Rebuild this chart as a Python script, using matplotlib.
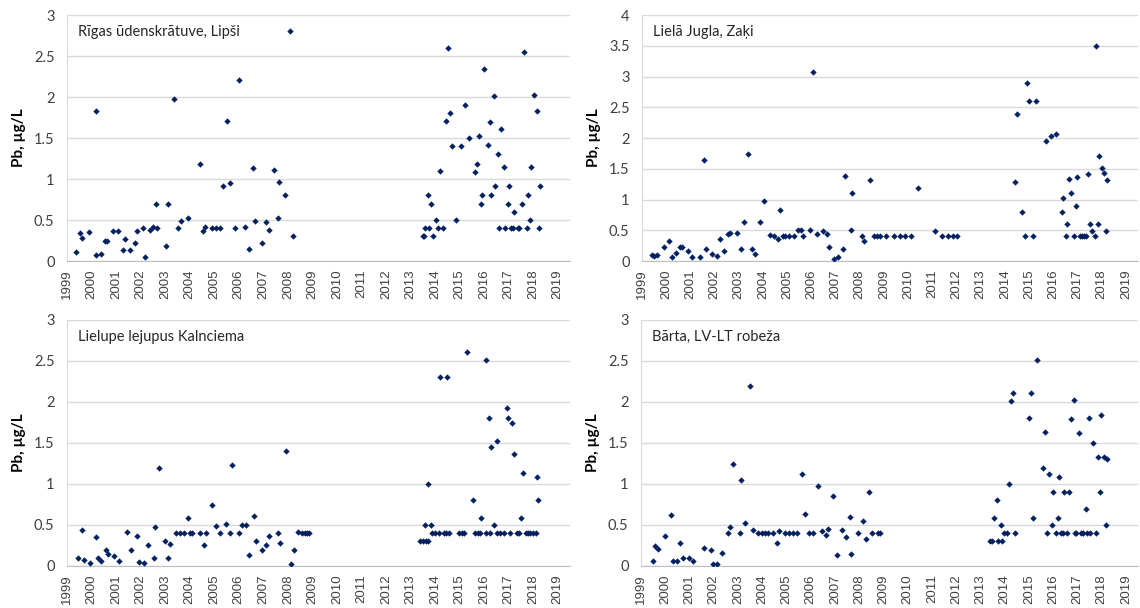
import matplotlib
matplotlib.use("Agg")
import matplotlib.pyplot as plt
from matplotlib.ticker import FuncFormatter

# --- data (decimal year, Pb ug/L) ---
rigas_x = [1999.35, 1999.53, 1999.63, 1999.89, 2000.17, 2000.18, 2000.40, 2000.53, 2000.62, 2000.88,
           2001.07, 2001.28, 2001.37, 2001.55, 2001.75, 2001.85, 2002.11, 2002.19, 2002.37, 2002.50,
           2002.63, 2002.68, 2003.02, 2003.10, 2003.36, 2003.54, 2003.66, 2003.94, 2004.40, 2004.55,
           2004.63, 2004.89, 2005.08, 2005.24, 2005.37, 2005.54, 2005.63, 2005.86, 2006.02, 2006.24,
           2006.42, 2006.58, 2006.68, 2006.93, 2007.10, 2007.23, 2007.43, 2007.60, 2007.64, 2007.89,
           2008.08, 2008.20,
           2013.49, 2013.53, 2013.61, 2013.70, 2013.75, 2013.83, 2013.92, 2014.04, 2014.13, 2014.21,
           2014.34, 2014.43, 2014.53, 2014.61, 2014.69, 2014.87, 2015.05, 2015.21, 2015.39, 2015.62,
           2015.70, 2015.78, 2015.86, 2015.92, 2016.00, 2016.14, 2016.22, 2016.26, 2016.40, 2016.44,
           2016.56, 2016.61, 2016.70, 2016.79, 2016.87, 2016.96, 2017.01, 2017.08, 2017.16, 2017.23,
           2017.39, 2017.43, 2017.53, 2017.62, 2017.74, 2017.79, 2017.87, 2017.92, 2018.05, 2018.14,
           2018.22, 2018.26]
rigas_y = [0.11, 0.34, 0.28, 0.35, 1.83, 0.07, 0.08, 0.25, 0.24, 0.36,
           0.36, 0.13, 0.27, 0.14, 0.22, 0.36, 0.40, 0.05, 0.38, 0.42,
           0.69, 0.40, 0.18, 0.70, 1.98, 0.40, 0.49, 0.53, 1.18, 0.36,
           0.42, 0.40, 0.40, 0.40, 0.91, 1.71, 0.95, 0.40, 2.21, 0.42,
           0.15, 1.14, 0.49, 0.22, 0.47, 0.38, 1.11, 0.53, 0.96, 0.81,
           2.80, 0.30,
           0.30, 0.30, 0.40, 0.81, 0.40, 0.70, 0.30, 0.50, 0.40, 1.10,
           0.40, 1.71, 2.60, 1.80, 1.40, 0.50, 1.40, 1.90, 1.50, 1.09,
           1.18, 1.53, 0.70, 0.81, 2.34, 1.41, 1.69, 0.81, 2.01, 0.91,
           1.30, 0.40, 1.61, 1.15, 0.40, 0.70, 0.91, 0.40, 0.40, 0.60,
           0.40, 0.40, 0.70, 2.55, 0.40, 0.81, 0.50, 1.15, 2.02, 1.83,
           0.40, 0.91]

jugla_x = [1999.41, 1999.50, 1999.63, 1999.90, 2000.12, 2000.25, 2000.42, 2000.56, 2000.65, 2000.90,
           2001.07, 2001.39, 2001.57, 2001.65, 2001.91, 2002.09, 2002.22, 2002.39, 2002.55, 2002.65,
           2002.92, 2003.08, 2003.22, 2003.39, 2003.56, 2003.66, 2003.88, 2004.05, 2004.27, 2004.45,
           2004.61, 2004.70, 2004.83, 2004.93, 2005.09, 2005.27, 2005.43, 2005.58, 2005.66, 2005.93,
           2006.07, 2006.23, 2006.46, 2006.64, 2006.72, 2006.93, 2007.11, 2007.29, 2007.41, 2007.63,
           2007.67, 2008.10, 2008.18, 2008.41, 2008.59, 2008.73, 2008.84, 2009.07, 2009.42, 2009.67,
           2009.86, 2010.12, 2010.42, 2011.11, 2011.42, 2011.64, 2011.85, 2012.04,
           2014.43, 2014.52, 2014.70, 2014.83, 2014.91, 2015.00, 2015.17, 2015.27, 2015.69, 2015.91,
           2016.10, 2016.35, 2016.39, 2016.52, 2016.57, 2016.66, 2016.75, 2016.84, 2016.92, 2017.00,
           2017.10, 2017.18, 2017.26, 2017.36, 2017.44, 2017.50, 2017.58, 2017.71, 2017.75, 2017.85,
           2017.88, 2018.02, 2018.10, 2018.19, 2018.23]
jugla_y = [0.10, 0.08, 0.10, 0.22, 0.32, 0.06, 0.13, 0.23, 0.22, 0.17,
           0.06, 0.06, 1.64, 0.20, 0.12, 0.08, 0.36, 0.17, 0.44, 0.46,
           0.46, 0.20, 0.64, 1.74, 0.19, 0.12, 0.64, 0.97, 0.43, 0.40,
           0.36, 0.83, 0.40, 0.40, 0.40, 0.40, 0.50, 0.50, 0.40, 0.51,
           3.07, 0.44, 0.48, 0.44, 0.23, 0.04, 0.07, 0.20, 1.39, 0.51,
           1.10, 0.40, 0.32, 1.31, 0.40, 0.40, 0.40, 0.40, 0.40, 0.40,
           0.40, 0.40, 1.19, 0.49, 0.40, 0.40, 0.40, 0.40,
           1.29, 2.39, 0.79, 0.40, 2.90, 2.61, 0.40, 2.61, 1.95, 2.03,
           2.06, 0.79, 1.03, 0.40, 0.60, 1.33, 1.10, 0.40, 0.90, 1.36,
           0.40, 0.40, 0.40, 0.40, 1.41, 0.60, 0.49, 0.40, 3.50, 0.60,
           1.70, 1.52, 1.43, 0.49, 1.31]

lielupe_x = [1999.45, 1999.59, 1999.68, 1999.94, 2000.20, 2000.28, 2000.40, 2000.58, 2000.66, 2000.93,
             2001.10, 2001.45, 2001.59, 2001.85, 2001.94, 2002.12, 2002.28, 2002.55, 2002.59, 2002.76,
             2003.01, 2003.10, 2003.20, 2003.46, 2003.59, 2003.76, 2003.94, 2004.03, 2004.11, 2004.40,
             2004.59, 2004.68, 2004.90, 2005.07, 2005.25, 2005.46, 2005.64, 2005.72, 2005.99, 2006.13,
             2006.31, 2006.42, 2006.64, 2006.69, 2006.95, 2007.11, 2007.25, 2007.60, 2007.68, 2007.94,
             2008.12, 2008.24, 2008.42, 2008.58, 2008.69, 2008.79, 2008.88,
             2013.40, 2013.49, 2013.59, 2013.62, 2013.70, 2013.71, 2013.83, 2013.89, 2013.98, 2014.17,
             2014.21, 2014.35, 2014.43, 2014.47, 2014.57, 2014.99, 2015.09, 2015.17, 2015.31, 2015.56,
             2015.61, 2015.74, 2015.82, 2015.86, 2016.06, 2016.09, 2016.18, 2016.22, 2016.30, 2016.40,
             2016.52, 2016.54, 2016.66, 2016.79, 2016.93, 2016.96, 2017.04, 2017.14, 2017.22, 2017.32,
             2017.41, 2017.49, 2017.58, 2017.70, 2017.79, 2017.88, 2017.98, 2018.11, 2018.17, 2018.21]
lielupe_y = [0.10, 0.44, 0.07, 0.04, 0.35, 0.10, 0.06, 0.19, 0.15, 0.12,
             0.06, 0.42, 0.19, 0.37, 0.05, 0.04, 0.25, 0.10, 0.47, 1.19,
             0.30, 0.10, 0.27, 0.40, 0.40, 0.40, 0.59, 0.40, 0.40, 0.40,
             0.25, 0.40, 0.74, 0.49, 0.40, 0.51, 0.40, 1.23, 0.40, 0.50,
             0.50, 0.14, 0.61, 0.31, 0.19, 0.25, 0.37, 0.40, 0.28, 1.40,
             0.02, 0.19, 0.42, 0.40, 0.40, 0.40, 0.40,
             0.30, 0.30, 0.50, 0.30, 1.00, 0.30, 0.50, 0.40, 0.40, 0.40,
             2.30, 0.40, 0.40, 2.30, 0.40, 0.40, 0.40, 0.40, 2.61, 0.80,
             0.40, 0.40, 0.40, 0.59, 2.51, 0.40, 1.80, 0.40, 1.45, 0.50,
             1.53, 0.40, 0.40, 0.40, 1.93, 1.80, 0.40, 1.74, 1.37, 0.40,
             0.40, 0.59, 1.14, 0.40, 0.40, 0.40, 0.40, 0.40, 1.09, 0.80]

barta_x = [1999.49, 1999.57, 1999.71, 1999.97, 2000.22, 2000.32, 2000.48, 2000.60, 2000.74, 2000.96,
           2001.13, 2001.61, 2001.87, 2001.95, 2002.13, 2002.32, 2002.58, 2002.66, 2002.80, 2003.09,
           2003.13, 2003.27, 2003.49, 2003.61, 2003.84, 2003.99, 2004.10, 2004.24, 2004.46, 2004.62,
           2004.70, 2004.92, 2005.09, 2005.26, 2005.44, 2005.62, 2005.75, 2005.91, 2006.10, 2006.28,
           2006.46, 2006.62, 2006.71, 2006.92, 2007.09, 2007.27, 2007.45, 2007.61, 2007.67, 2007.93,
           2008.14, 2008.27, 2008.40, 2008.52, 2008.78, 2008.84,
           2013.41, 2013.48, 2013.56, 2013.69, 2013.73, 2013.83, 2013.87, 2013.99, 2014.09, 2014.17,
           2014.27, 2014.36, 2014.44, 2015.00, 2015.09, 2015.18, 2015.35, 2015.57, 2015.65, 2015.75,
           2015.83, 2015.93, 2016.01, 2016.10, 2016.18, 2016.22, 2016.32, 2016.40, 2016.46, 2016.56,
           2016.66, 2016.74, 2016.84, 2016.88, 2016.96, 2017.05, 2017.13, 2017.23, 2017.36, 2017.40,
           2017.48, 2017.53, 2017.65, 2017.75, 2017.83, 2017.91, 2017.99, 2018.09, 2018.18, 2018.22]
barta_y = [0.06, 0.24, 0.21, 0.36, 0.62, 0.06, 0.06, 0.28, 0.10, 0.10,
           0.06, 0.22, 0.20, 0.03, 0.03, 0.16, 0.40, 0.47, 1.24, 0.40,
           1.05, 0.52, 2.20, 0.44, 0.40, 0.40, 0.40, 0.40, 0.40, 0.28,
           0.43, 0.40, 0.40, 0.40, 0.40, 1.12, 0.63, 0.40, 0.40, 0.98,
           0.43, 0.38, 0.45, 0.85, 0.14, 0.44, 0.35, 0.60, 0.15, 0.40,
           0.55, 0.33, 0.90, 0.40, 0.40, 0.40,
           0.30, 0.30, 0.59, 0.80, 0.30, 0.50, 0.30, 0.40, 0.40, 1.00,
           2.01, 2.11, 0.40, 1.80, 2.11, 0.59, 2.51, 1.20, 1.63, 0.40,
           1.12, 0.50, 0.90, 0.40, 0.59, 1.08, 0.40, 0.40, 0.90, 0.40,
           0.90, 1.79, 2.02, 0.40, 0.40, 1.62, 0.40, 0.40, 0.69, 0.40,
           1.81, 0.40, 1.50, 0.40, 1.33, 0.90, 1.84, 1.33, 0.50, 1.30]

years = list(range(1999, 2020))

panels = [
    ("Rīgas ūdenskrātuve, Lipši", rigas_x, rigas_y, 3),
    ("Lielā Jugla, Zaķi", jugla_x, jugla_y, 4),
    ("Lielupe lejupus Kalnciema", lielupe_x, lielupe_y, 3),
    ("Bārta, LV-LT robeža", barta_x, barta_y, 3),
]

# axes boxes in figure fractions (left, bottom, width, height)
boxes = [
    (0.0588, 0.5707, 0.4412, 0.4046),
    (0.5632, 0.5707, 0.4350, 0.4046),
    (0.0588, 0.0691, 0.4412, 0.4046),
    (0.5623, 0.0691, 0.4360, 0.4046),
]

fig = plt.figure(figsize=(11.4, 6.08), dpi=100)
navy = "#002060"

for (title, xs, ys, ymax), box in zip(panels, boxes):
    ax = fig.add_axes(box)
    ax.plot(xs, ys, linestyle="none", marker="D", markersize=2.9,
            color=navy, markeredgewidth=0.3, zorder=3)
    ax.set_xlim(1999, 2019.5)
    ax.set_ylim(0, ymax)
    ax.set_yticks([v * 0.5 for v in range(int(ymax * 2) + 1)])
    ax.yaxis.set_major_formatter(FuncFormatter(lambda v, p: "%g" % v))
    ax.set_xticks(years)
    ax.set_xticklabels([str(y) for y in years], rotation=90,
                       fontfamily="Liberation Sans", fontsize=9.5)
    for lbl in ax.get_yticklabels():
        lbl.set_fontfamily("Lato")
        lbl.set_fontsize(10.5)
    ax.tick_params(axis="both", length=0, colors="#404040")
    ax.tick_params(axis="y", pad=9)
    ax.tick_params(axis="x", pad=6)
    ax.grid(axis="y", color="#d9d9d9", linewidth=1)
    ax.set_axisbelow(True)
    ax.spines["top"].set_visible(False)
    ax.spines["right"].set_visible(False)
    ax.spines["left"].set_color("#d9d9d9")
    ax.spines["bottom"].set_color("#bfbfbf")
    ax.set_ylabel("Pb, µg/L", fontfamily="Lato", fontweight="bold",
                  fontsize=11, color="black", labelpad=6)
    ax.text(0.022, 0.93, title, transform=ax.transAxes, fontfamily="Lato",
            fontsize=10.5, color="#262626", va="center", ha="left")

fig.savefig("out.png", dpi=100)
